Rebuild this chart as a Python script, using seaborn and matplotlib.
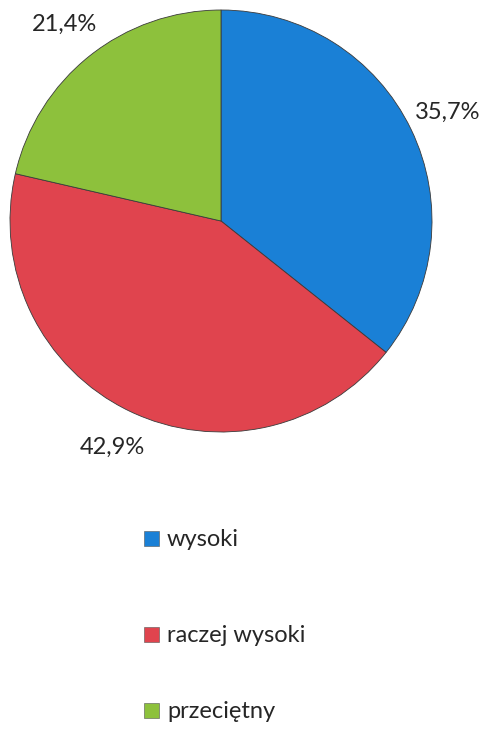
import matplotlib
matplotlib.use("Agg")
import matplotlib.pyplot as plt
import seaborn as sns
from matplotlib.patches import Patch

categories = ["wysoki", "raczej wysoki", "przeciętny"]
values = [35.7, 42.9, 21.4]
labels = ["35,7%", "42,9%", "21,4%"]
colors = ["#1a80d6", "#e0444e", "#8dc13c"]

sns.set_theme(style="white")
plt.rcParams['font.family'] = ['Lato', 'DejaVu Sans']

W, H = 491, 741
fig = plt.figure(figsize=(W / 100, H / 100), dpi=100)
fig.patch.set_facecolor("white")

ax = fig.add_axes([10 / W, 309 / H, 422 / W, 422 / H])
wedges, texts = ax.pie(values, labels=labels, colors=colors, startangle=90,
                       counterclock=False, labeldistance=1.19,
                       wedgeprops=dict(edgecolor="#3a3a3a", linewidth=0.6),
                       textprops=dict(fontsize=17, color="#262626"))
for t in texts:
    t.set_horizontalalignment("center")
    t.set_verticalalignment("center")
ax.set_xlim(-1, 1)
ax.set_ylim(-1, 1)
ax.set_aspect("equal")
ax.axis("off")

legend_y = [540, 636, 712]
for cat, col, y in zip(categories, colors, legend_y):
    fig.legend(handles=[Patch(facecolor=col, edgecolor="#555555", linewidth=0.4)],
               labels=[cat], loc="center left",
               bbox_to_anchor=(144 / W, 1 - y / H), frameon=False,
               handlelength=0.62, handleheight=0.6, handletextpad=0.35,
               fontsize=17, labelcolor="#262626", borderaxespad=0, borderpad=0)

fig.savefig("out.png", dpi=100, facecolor="white")
